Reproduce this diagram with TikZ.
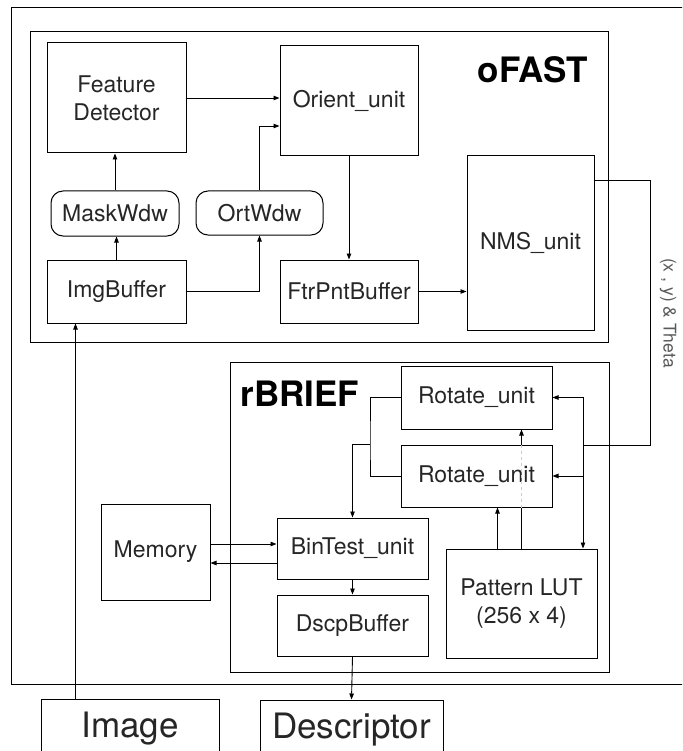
\documentclass[tikz,border=0pt]{standalone}
\usepackage{fontspec}
\setmainfont{TeX Gyre Heros}
\usetikzlibrary{arrows.meta,calc}

\begin{document}
\begin{tikzpicture}[x=1pt,y=1pt,yscale=-1,xscale=1,
  blk/.style={draw,line width=1pt,text=black!85,font=\fontsize{23}{28}\selectfont,align=center,inner sep=0pt},
  wdw/.style={blk,rounded corners=12pt},
  big/.style={blk,font=\fontsize{35}{40}\selectfont},
  ttl/.style={text=black,font=\fontsize{35}{35}\selectfont\bfseries},
  grp/.style={draw,line width=1pt},
  ln/.style={line width=0.9pt},
  arr/.style={ln,-{Triangle[length=6pt,width=4.5pt]}}]
\useasboundingbox (0,0) rectangle (682,751);
\clip (0,0) rectangle (682,751);

% frames
\draw[grp] (700,8) -| (11,684) -- (700,684);
\draw[grp] (30,32) rectangle (608,342);
\draw[grp] (230,362) rectangle (609,672);
\node[ttl] (ofast) at (533,70) {oFAST};
\node[ttl] (rbrief) at (300,394) {rBRIEF};

% oFAST
\node[blk,minimum width=139pt,minimum height=110pt] (fd) at (116.5,98) {Feature\\Detector};
\node[blk,minimum width=138pt,minimum height=110pt] (orient) at (349,101) {Orient\_unit};
\node[wdw,minimum width=128pt,minimum height=45pt] (mask) at (115,213.5) {MaskWdw};
\node[wdw,minimum width=127pt,minimum height=44pt] (ort) at (259.5,213) {OrtWdw};
\node[blk,minimum width=139pt,minimum height=63pt] (imgbuf) at (116.5,291.5) {ImgBuffer};
\node[blk,minimum width=138pt,minimum height=63pt] (ftr) at (349,291.5) {FtrPntBuffer};
\node[blk,minimum width=127pt,minimum height=174pt] (nms) at (530.5,243) {NMS\_unit};

% rBRIEF
\node[blk,minimum width=151pt,minimum height=63pt] (rot1) at (476.5,397.5) {Rotate\_unit};
\node[blk,minimum width=151pt,minimum height=62pt] (rot2) at (476.5,476) {Rotate\_unit};
\node[blk,minimum width=109pt,minimum height=96pt] (mem) at (155.5,552) {Memory};
\node[blk,minimum width=151pt,minimum height=61pt] (bin) at (352.5,548.5) {BinTest\_unit};
\node[blk,minimum width=151pt,minimum height=61pt] (dscp) at (352.5,625.5) {DscpBuffer};
\node[blk,minimum width=151pt,minimum height=109pt] (lut) at (521.5,603.5) {Pattern LUT\\(256 x 4)};

% in / out
\node[big,minimum width=178pt,minimum height=60pt] (image) at (130,729) {Image};
\node[big,minimum width=183pt,minimum height=60pt] (desc) at (351.5,730) {Descriptor};
\node[rotate=-90,text=black!65,font=\fontsize{17.5}{20}\selectfont] (lbl) at (668,313) {(x , y) \& Theta};

\coordinate (imgin) at ($(imgbuf.south west)+(29,0)$);
\coordinate (ortin) at ($(orient.west)+(0,25)$);
\coordinate (xy) at (650,180);
\coordinate (bus) at (583,445);
\coordinate (sp) at (370,444);
\coordinate (lt) at ($(lut.north)+(-24,0)$);
\coordinate (wr) at ($(mem.east)+(0,-8)$);
\coordinate (rd) at ($(mem.east)+(0,11)$);

\draw[arr] (imgin|-image.north) -- (imgin);
\draw[arr] (imgbuf.north) -- (imgbuf.north|-mask.south);
\draw[arr] (mask.north) -- (mask.north|-fd.south);
\draw[arr] (fd.east) -- (fd.east-|orient.west);
\draw[arr] (imgbuf.east) -| (ort.south);
\draw[arr] (ort.north) |- (ortin);
\draw[arr] (orient.south) -- (ftr.north);
\draw[arr] (ftr.east) -- (ftr.east-|nms.west);

\draw[ln] (nms.east|-xy) -- (xy) |- (bus);
\draw[arr] (bus) |- (rot1.east);
\draw[arr] (bus) |- (rot2.east);
\draw[arr] (bus) -- (bus|-lut.north);
\draw[ln] (rot1.west) -| (sp) |- (rot2.west);
\draw[arr] (sp) -| (bin.north);
\draw[arr] (lt) -- (lt|-rot2.south);
\draw[ln] (lut.north) -- (lut.north|-rot2.south);
\draw[ln,gray!40,dashed] (lut.north|-rot2.south) -- (lut.north|-rot2.north);
\draw[arr] (lut.north|-rot2.north) -- (lut.north|-rot1.south);
\draw[arr] (wr) -- (wr-|bin.west);
\draw[arr] (rd-|bin.west) -- (rd);
\draw[arr] (bin.south) -- (dscp.north);
\draw[arr] (dscp.south) -- (desc.north);

\end{tikzpicture}
\end{document}
